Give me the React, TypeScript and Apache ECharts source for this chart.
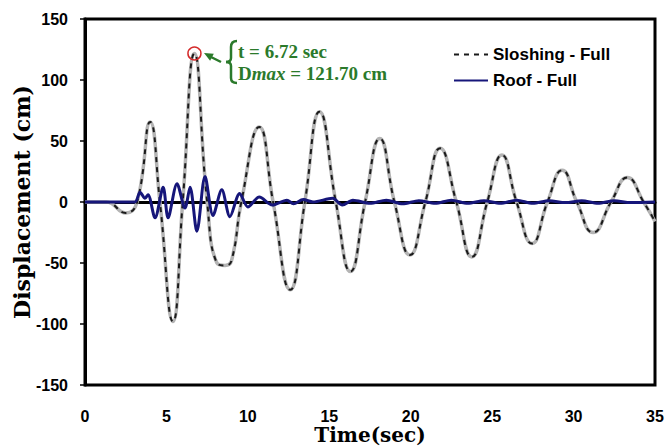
import React, { useEffect, useRef } from "react";
import * as echarts from "echarts";

const sloshTime = [0, 1.3, 2.5, 3.2, 4.0, 4.6, 5.4, 6.0, 6.72, 7.5, 8.1, 8.6, 9.0, 9.6, 10.7, 11.55, 12.6, 13.5, 14.4, 15.4, 16.3, 17.2, 18.1, 19.0, 19.95, 20.9, 21.8, 22.8, 23.75, 24.7, 25.6, 26.5, 27.45, 28.4, 29.3, 30.2, 31.2, 32.3, 33.3, 34.3, 35];
const sloshDisp = [0, 0, -9, 0, 65.6, 0, -98, 0, 121.7, 0, -50, -52, -48, 0, 61.5, 0, -72, 0, 74, 0, -57, 0, 52, 0, -43.5, 0, 44, 0, -45, 0, 38.5, 0, -34, 0, 26, 0, -25, 0, 20, 0, -16];

const roofTime = [0, 3.05, 3.38, 3.68, 3.87, 4.3, 4.8, 5.1, 5.65, 6.14, 6.45, 6.87, 7.37, 7.86, 8.4, 8.9, 9.5, 10.0, 10.7, 11.5, 12.4, 12.8, 13.4, 14.0, 15.2, 15.8, 16.45, 17.5, 18.5, 19.5, 20.5, 21.5, 22.5, 23.5, 24.5, 25.5, 26.5, 27.5, 28.5, 29.5, 30.5, 31.5, 32.5, 33.5, 35];
const roofDisp = [0, 0, 8, 3, 6, -13, 12, -13, 15, -5, 12, -24, 21, -11, 10, -12, 7, -4, 4, -2.5, 1.5, -1.5, 2, 0, 3, -2.5, 1.5, -1, 1.5, -1.5, 1, -1, 1.5, -1, 1, -1, 1.5, -1, 1, -0.5, 1, -1, 1, -0.5, 0];

const peakTime = 6.72;
const peakDisp = 121.7;

const seriesNames = ["Sloshing - Full", "Roof - Full"];
const annotationLines = ["t = 6.72 sec", "121.70 cm"];

const GREEN = "#2b7a2b";

export default function App() {
  const ref = useRef<HTMLDivElement>(null);
  useEffect(() => {
    document.body.style.margin = "0";
    const chart = echarts.init(ref.current!, null, { renderer: "svg" });
    const slosh = sloshTime.map((t, i) => [t, sloshDisp[i]]);
    const roof = roofTime.map((t, i) => [t, roofDisp[i]]);
    const braceStyle = { stroke: GREEN, lineWidth: 2.5, fill: "none" };
    chart.setOption({
      animation: false,
      backgroundColor: "#fff",
      grid: {
        left: 85, right: 12, top: 19, bottom: 63,
        containLabel: false, outerBoundsMode: "none",
        show: true, borderColor: "#000", borderWidth: 3,
      },
      xAxis: {
        type: "value",
        min: 0,
        max: 35,
        interval: 5,
        name: "Time(sec)",
        nameLocation: "middle",
        nameGap: 40,
        nameMoveOverlap: false,
        nameTextStyle: { fontFamily: "DejaVu Serif", fontWeight: "bold", fontSize: 20, color: "#000" },
        axisLine: { lineStyle: { color: "#000", width: 3 } },
        axisTick: { show: false },
        splitLine: { show: false },
        axisLabel: { margin: 23, fontFamily: "Liberation Sans", fontWeight: "bold", fontSize: 16, color: "#000" },
      },
      yAxis: {
        type: "value",
        min: -150,
        max: 150,
        interval: 50,
        name: "Displacement (cm)",
        nameLocation: "middle",
        nameRotate: 90,
        nameGap: 52,
        nameMoveOverlap: false,
        nameTextStyle: { fontFamily: "DejaVu Serif", fontWeight: "bold", fontSize: 22, color: "#000" },
        axisLine: { onZero: false, lineStyle: { color: "#000", width: 3 } },
        axisTick: { show: true, length: 5, lineStyle: { color: "#000", width: 1.5 } },
        splitLine: { show: false },
        axisLabel: { margin: 17, fontFamily: "Liberation Sans", fontWeight: "bold", fontSize: 16, color: "#000" },
      },
      legend: {
        orient: "vertical",
        left: 448,
        top: 41,
        itemWidth: 34,
        itemHeight: 14,
        itemGap: 9,
        itemStyle: { opacity: 0 },
        textStyle: { fontFamily: "Liberation Sans", fontWeight: "bold", fontSize: 17, color: "#000" },
        data: [seriesNames[0], seriesNames[1]],
      },
      series: [
        {
          name: "bg",
          type: "line",
          data: slosh,
          smooth: 0.5,
          symbol: "none",
          silent: true,
          lineStyle: { color: "#b4b4b4", width: 3.5 },
          z: 1,
        },
        {
          name: seriesNames[0],
          type: "line",
          data: slosh,
          smooth: 0.5,
          symbol: "none",
          lineStyle: { color: "#1a1a1a", width: 2, type: [5, 5] },
          itemStyle: { color: "#777" },
          z: 2,
          markPoint: {
            silent: true,
            symbol: "circle",
            symbolSize: 13,
            label: { show: false },
            itemStyle: { color: "rgba(0,0,0,0)", borderColor: "#d42a2a", borderWidth: 1.5 },
            data: [{ coord: [peakTime, peakDisp] }],
          },
        },
        {
          name: seriesNames[1],
          type: "line",
          data: roof,
          smooth: 0.3,
          symbol: "none",
          lineStyle: { color: "#16167a", width: 3 },
          itemStyle: { color: "#16167a" },
          z: 3,
        },
      ],
      graphic: [
        { type: "line", shape: { x1: 211, y1: 57, x2: 221, y2: 62 }, style: { stroke: GREEN, lineWidth: 2.5 } },
        { type: "polygon", shape: { points: [[204, 53], [213.8, 53.7], [210.1, 60.7]] }, style: { fill: GREEN } },
        { type: "bezierCurve", shape: { x1: 237, y1: 41, cpx1: 233, cpy1: 41, cpx2: 231, cpy2: 43, x2: 231, y2: 47 }, style: braceStyle },
        { type: "line", shape: { x1: 231, y1: 47, x2: 231, y2: 58 }, style: braceStyle },
        { type: "bezierCurve", shape: { x1: 231, y1: 58, cpx1: 231, cpy1: 61, cpx2: 229, cpy2: 62, x2: 226, y2: 62 }, style: braceStyle },
        { type: "bezierCurve", shape: { x1: 226, y1: 62, cpx1: 229, cpy1: 62, cpx2: 231, cpy2: 63, x2: 231, y2: 66 }, style: braceStyle },
        { type: "line", shape: { x1: 231, y1: 66, x2: 231, y2: 78 }, style: braceStyle },
        { type: "bezierCurve", shape: { x1: 231, y1: 78, cpx1: 231, cpy1: 81, cpx2: 233, cpy2: 83, x2: 237, y2: 83 }, style: braceStyle },
        {
          type: "text",
          x: 238,
          y: 51,
          style: { text: annotationLines[0], fontFamily: "Liberation Serif", fontWeight: "bold", fontSize: 19, fill: GREEN, textVerticalAlign: "middle" },
        },
        {
          type: "text",
          x: 238,
          y: 73,
          style: {
            text: "{b|D}{i|max}{b| = " + annotationLines[1] + "}",
            fontFamily: "Liberation Serif",
            fontSize: 19,
            fill: GREEN,
            textVerticalAlign: "middle",
            rich: {
              b: { fontFamily: "Liberation Serif", fontWeight: "bold", fontSize: 19, fill: GREEN, color: GREEN },
              i: { fontFamily: "Liberation Serif", fontStyle: "italic", fontWeight: "bold", fontSize: 19, fill: GREEN, color: GREEN },
            },
          },
        },
      ],
    });
    return () => chart.dispose();
  }, []);
  return <div ref={ref} style={{ width: 667, height: 448 }} />;
}
